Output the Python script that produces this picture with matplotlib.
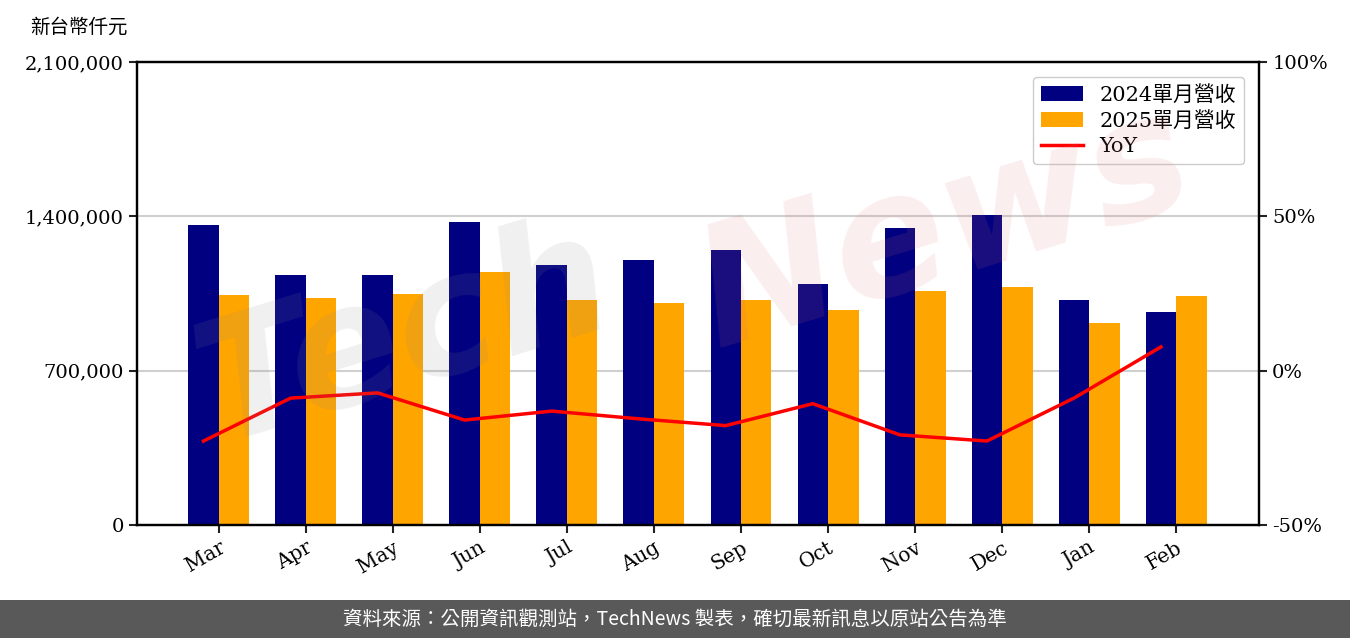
import matplotlib
matplotlib.use("Agg")
import matplotlib.pyplot as plt
from matplotlib.patches import Rectangle
from matplotlib.ticker import FuncFormatter
import numpy as np

months = ["Mar", "Apr", "May", "Jun", "Jul", "Aug", "Sep", "Oct", "Nov", "Dec", "Jan", "Feb"]
rev_2024 = [1360000, 1134000, 1134000, 1374000, 1179000, 1202000,
            1247000, 1093000, 1347000, 1406000, 1021000, 966000]
rev_2025 = [1043000, 1030000, 1048000, 1148000, 1021000, 1007000,
            1021000, 975000, 1061000, 1080000, 916000, 1039000]
yoy = [-22.8, -8.9, -7.2, -16.0, -13.1, -15.6, -17.8, -10.7, -20.8, -22.8, -8.9, 7.7]

SERIF = ["DejaVu Serif", "Noto Sans CJK TC"]
plt.rcParams["font.family"] = SERIF

fig = plt.figure(figsize=(13.5, 6.38), dpi=100)
ax = fig.add_axes([137 / 1350, 1 - 525 / 638, (1259 - 137) / 1350, (525 - 62) / 638])
ax2 = ax.twinx()

x = np.arange(len(months))
w = 0.35
b1 = ax.bar(x, rev_2024, w, color="#000080", zorder=2)
b2 = ax.bar(x + w, rev_2025, w, color="#FFA500", zorder=2)
line, = ax2.plot(x, yoy, color="#FF0000", lw=2.5, zorder=3)

ax.set_xlim(-0.764, 12.126)
ax.set_ylim(0, 2100000)
ax.set_yticks([0, 700000, 1400000, 2100000])
ax.yaxis.set_major_formatter(FuncFormatter(lambda v, p: f"{int(v):,}"))
ax.grid(axis="y", color="#d0d0d0", lw=1.5, zorder=0)
ax.set_axisbelow(True)
ax.set_xticks(x + w / 2)
ax.set_xticklabels(months, rotation=30, ha="right", rotation_mode="anchor")

ax2.set_ylim(-50, 100)
ax2.set_yticks([-50, 0, 50, 100])
ax2.yaxis.set_major_formatter(FuncFormatter(lambda v, p: f"{int(v)}%"))

for a in (ax, ax2):
    a.tick_params(labelsize=14, width=1.5, length=6, color="#222222")
    for s in a.spines.values():
        s.set_linewidth(1.6)
        s.set_color("black")
ax.tick_params(axis="x", labelsize=14.5)

# watermark, drawn over the plot with low alpha
fig.text(0.30, 0.47, "Tech", fontsize=120, fontstyle="italic", fontweight="bold",
         color="#888888", alpha=0.13, rotation=17, ha="center", va="center",
         family="DejaVu Sans", zorder=10)
fig.text(0.70, 0.64, "News", fontsize=120, fontstyle="italic", fontweight="bold",
         color="#e07070", alpha=0.12, rotation=17, ha="center", va="center",
         family="DejaVu Sans", zorder=10)

ax2.legend([b1, b2, line], ["2024單月營收", "2025單月營收", "YoY"],
           loc="upper right", fontsize=15, frameon=True, fancybox=True,
           edgecolor="#cccccc", framealpha=1.0, borderpad=0.4,
           handlelength=2.0, labelspacing=0.3, borderaxespad=0.7)

fig.text(30 / 1350, 1 - 27 / 638, "新台幣仟元", fontsize=14, ha="left", va="center",
         family=SERIF)

fig.patches.append(Rectangle((0, 0), 1, 38 / 638, transform=fig.transFigure,
                             facecolor="#595959", edgecolor="none", zorder=0))
fig.text(0.5, 19 / 638, "資料來源：公開資訊觀測站，TechNews 製表，確切最新訊息以原站公告為準",
         fontsize=14, color="white", ha="center", va="center",
         family=["Noto Sans CJK TC", "DejaVu Sans"])

fig.savefig("out.png", dpi=100)
